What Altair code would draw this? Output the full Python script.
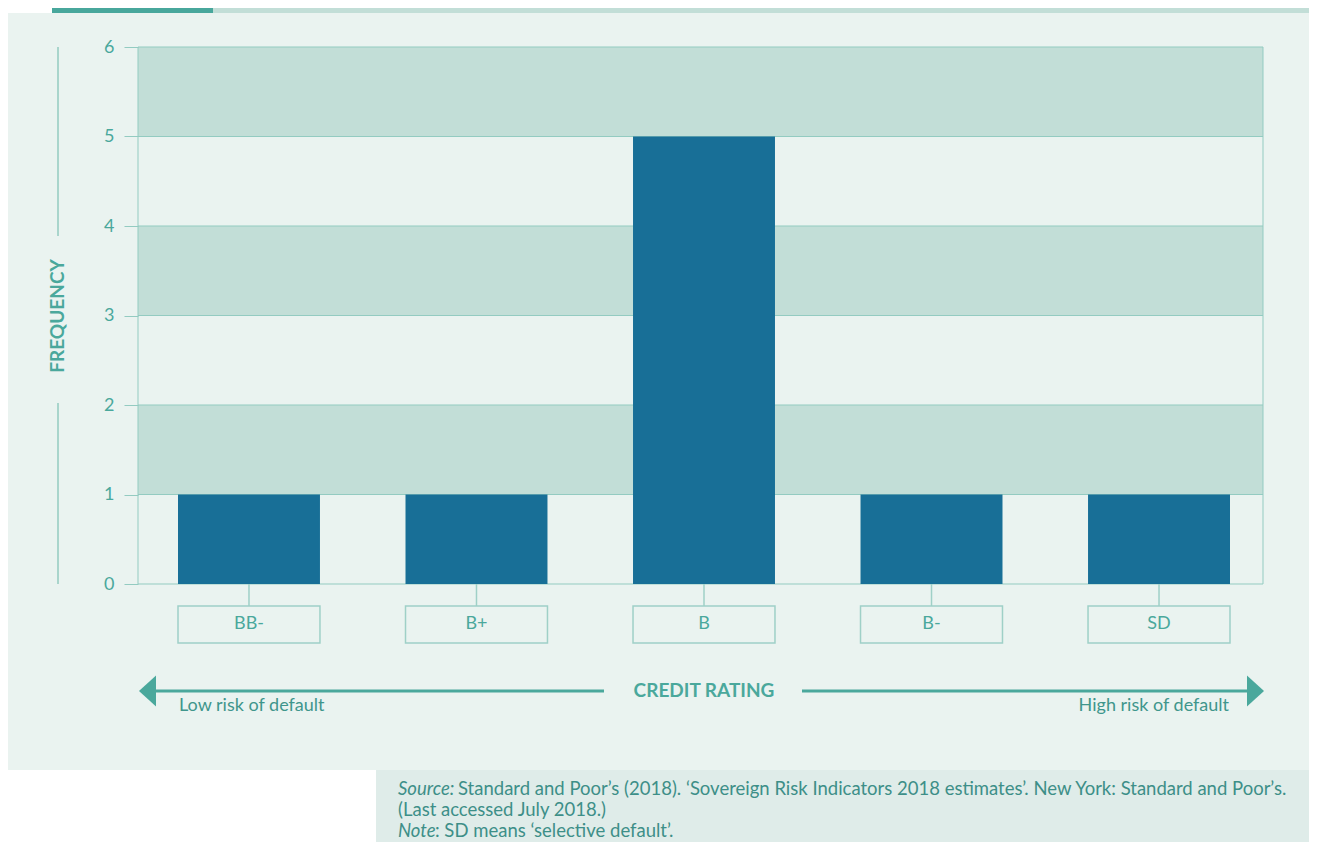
import altair as alt
import pandas as pd

# ---- data ----
ratings = ["BB-", "B+", "B", "B-", "SD"]
frequency = [1, 1, 5, 1, 1]
y_ticks = [0, 1, 2, 3, 4, 5, 6]
band_lo = [1, 3, 5]
band_hi = [2, 4, 6]

y_title = "FREQUENCY"
x_title = "CREDIT RATING"
low_label = "Low risk of default"
high_label = "High risk of default"
src_italic = "Source:"
src_rest = "Standard and Poor’s (2018). ‘Sovereign Risk Indicators 2018 estimates’. New York: Standard and Poor’s."
src_line2 = "(Last accessed July 2018.)"
note_italic = "Note"
note_rest = ": SD means ‘selective default’."

# ---- style ----
PANEL = "#eaf3f0"
BAND = "#c2ded7"
BAR = "#186f97"
TEAL = "#4aa89c"
TEAL_DARK = "#3f968c"
GRID = "#93cbc1"
BOX = "#9fd0c7"
SRC_BG = "#dfece9"
SRC_TXT = "#3d8f88"
FONT = "Lato"

W, H = 1125, 537

df = pd.DataFrame({"rating": ratings, "freq": frequency})
bands_df = pd.DataFrame({"lo": band_lo, "hi": band_hi})
ticks_df = pd.DataFrame({"tick": y_ticks})
one = pd.DataFrame({"d": [0]})

yscale = alt.Scale(domain=[0, 6], nice=False)
yaxis = alt.Axis(values=y_ticks, grid=False, domain=False, tickColor=GRID,
                 tickSize=14, tickWidth=1, labelColor=TEAL, labelFont=FONT,
                 labelFontSize=18, labelPadding=10, labelFlush=False,
                 title=None, format="d", zindex=2)
xscale = alt.Scale(domain=ratings, range=[40, 1092], paddingInner=0.376, paddingOuter=0)
X = alt.X("rating:N", scale=xscale, axis=None, sort=ratings)


def rect(color, x, x2, y, y2):
    return alt.Chart(one).mark_rect(color=color).encode(
        x=alt.value(x), x2=alt.value(x2), y=alt.value(y), y2=alt.value(y2))


def rule(color, width, x, x2, y, y2):
    return alt.Chart(one).mark_rule(color=color, strokeWidth=width).encode(
        x=alt.value(x), x2=alt.value(x2), y=alt.value(y), y2=alt.value(y2))


def text(t, x, y, **kw):
    return alt.Chart(one).mark_text(text=t, font=FONT, baseline="middle", **kw).encode(
        x=alt.value(x), y=alt.value(y))


panel = rect(PANEL, -130, 1171, -34, 723)
top_dark = rect("#48a79c", -86, 75, -39, -34)
top_light = rect(BAND, 75, 1171, -39, -34)
src_box = rect(SRC_BG, 238, 1171, 723, 800)

bands = alt.Chart(bands_df).mark_rect(color=BAND).encode(
    x=alt.value(0), x2=alt.value(W),
    y=alt.Y("lo:Q", scale=yscale, axis=yaxis), y2="hi:Q")

grid = alt.Chart(ticks_df).mark_rule(color=GRID, strokeWidth=1).encode(
    y=alt.Y("tick:Q", scale=yscale, axis=yaxis))

border_l = rule(GRID, 1, 0, 0, 0, H)
border_r = rule(GRID, 1, W, W, 0, H)

bars = alt.Chart(df).mark_bar(color=BAR).encode(
    x=X, y=alt.Y("freq:Q", scale=yscale, axis=yaxis))

tick_below = alt.Chart(df).mark_rule(color=BOX, strokeWidth=1.5).encode(
    x=X, y=alt.value(H), y2=alt.value(559))
boxes = alt.Chart(df).mark_rect(fill=PANEL, stroke=BOX, strokeWidth=1.5).encode(
    x=X, y=alt.value(559), y2=alt.value(596))
box_labels = alt.Chart(df).mark_text(font=FONT, fontSize=18, color=TEAL,
                                     baseline="middle").encode(
    x=X, y=alt.value(577), text="rating:N")

ytitle = text(y_title, -80, 269, angle=270, fontSize=19, fontWeight="bold",
              color=TEAL, align="center")
yline1 = rule(GRID, 1.5, -80, -80, 0, 189)
yline2 = rule(GRID, 1.5, -80, -80, 356, H)

arrow_l = rule(TEAL, 3, 12, 466, 644, 644)
arrow_r = rule(TEAL, 3, 664, 1112, 644, 644)
head_l = alt.Chart(one).mark_point(shape="M0.55,-1L-0.55,0L0.55,1Z", filled=True,
                                   size=961, color=TEAL, opacity=1).encode(
    x=alt.value(9.5), y=alt.value(644))
head_r = alt.Chart(one).mark_point(shape="M-0.55,-1L0.55,0L-0.55,1Z", filled=True,
                                   size=961, color=TEAL, opacity=1).encode(
    x=alt.value(1117.5), y=alt.value(644))
xtitle = text(x_title, 566, 644, align="center", fontSize=19, fontWeight="bold",
              color=TEAL)
low_t = text(low_label, 41, 659, align="left", fontSize=18, color=TEAL_DARK)
high_t = text(high_label, 1091, 659, align="right", fontSize=18, color=TEAL_DARK)

s1a = text(src_italic, 260, 742, align="left", fontSize=18.5, fontStyle="italic", color=SRC_TXT)
s1b = text(src_rest, 320, 742, align="left", fontSize=18.5, color=SRC_TXT)
s2 = text(src_line2, 260, 763, align="left", fontSize=18.5, color=SRC_TXT)
s3a = text(note_italic, 260, 784, align="left", fontSize=18.5, fontStyle="italic", color=SRC_TXT)
s3b = text(note_rest, 297, 784, align="left", fontSize=18.5, color=SRC_TXT)

chart = alt.layer(
    panel, top_dark, top_light, src_box,
    bands, grid, border_l, border_r, bars,
    tick_below, boxes, box_labels,
    ytitle, yline1, yline2,
    arrow_l, arrow_r, head_l, head_r, xtitle, low_t, high_t,
    s1a, s1b, s2, s3a, s3b,
).properties(
    width=W, height=H,
    autosize=alt.AutoSizeParams(type="none"),
    padding={"left": 130, "top": 39, "right": 46, "bottom": 258},
).configure(background="white").configure_view(strokeWidth=0)

chart.save("out.html", embed_options={"renderer": "svg", "actions": False})
